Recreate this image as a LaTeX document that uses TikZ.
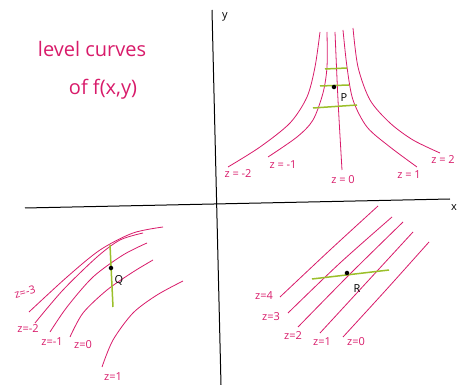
\documentclass[tikz,border=0pt]{standalone}
\usepackage{fontspec}
\setmainfont{Open Sans}
\usetikzlibrary{positioning}

\definecolor{curvepink}{HTML}{D81B6A}
\definecolor{tangentgreen}{HTML}{9BBF2A}

\begin{document}
\begin{tikzpicture}[x=1pt,y=-1pt,
  every node/.style={font=\fontsize{11}{12}\selectfont},
  axis/.style={line width=1pt,black},
  level/.style={curvepink,line width=.8pt},
  lvllabel/.style={text=curvepink,inner sep=1pt},
  cross/.style={tangentgreen,line width=1.5pt},
  pt/.style={circle,fill=black,inner sep=1.6pt}]
  \useasboundingbox (0,0) rectangle (459,385);

  % axes
  \coordinate (ytop) at (212,10);
  \coordinate (ybot) at (221,385);
  \coordinate (xleft) at (25,208);
  \coordinate (xright) at (450,199);
  \draw[axis] (ytop) -- (ybot);
  \draw[axis] (xleft) -- (xright);
  \node (ylab) at (225,17) {y};
  \node (xlab) at (454,208) {x};

  % title
  \node[text=curvepink,font=\fontsize{20}{22}\selectfont] (title1) at (92,49) {level curves};
  \node[text=curvepink,font=\fontsize{20}{22}\selectfont] (title2) at (103,89) {of f(x,y)};

  % first quadrant
  \draw[level] plot[smooth] coordinates {(320,32) (315,67) (307,97) (290,123) (260,147) (228,167)};
  \draw[level] plot[smooth] coordinates {(327,32) (327,67) (323,93) (313,120) (297,137) (268,157)};
  \draw[level] plot[smooth] coordinates {(335,32) (338,100) (342,170)};
  \draw[level] plot[smooth] coordinates {(343,30) (347,67) (353,100) (367,127) (390,147) (417,167)};
  \draw[level] plot[smooth] coordinates {(353,28) (358,67) (370,100) (390,123) (413,140) (440,153)};
  \draw[cross] (325,69) -- (347,68);
  \draw[cross] (320,86) -- (349,85);
  \draw[cross] (313,108) -- (357,105);
  \node[pt] (P) at (334,87) {};
  \node (Plab) at (344,98) {P};
  \node[lvllabel] (a1) at (238,174) {z = -2};
  \node[lvllabel] (a2) at (283,165) {z = -1};
  \node[lvllabel] (a3) at (343,180) {z = 0};
  \node[lvllabel] (a4) at (409,175) {z = 1};
  \node[lvllabel] (a5) at (443,160) {z = 2};

  % third quadrant
  \draw[level] plot[smooth] coordinates {(29,312) (67,277) (100,250) (133,233) (163,227)};
  \draw[level] plot[smooth] coordinates {(35,323) (63,290) (97,257) (120,240) (143,233)};
  \draw[level] plot[smooth] coordinates {(50,332) (67,307) (93,277) (123,255) (147,243)};
  \draw[level] plot[smooth] coordinates {(70,337) (83,313) (107,290) (133,272) (153,260)};
  \draw[level] plot[smooth] coordinates {(102,367) (113,340) (133,313) (157,295) (183,281)};
  \draw[cross] (110,245) -- (113,307);
  \node[pt] (Q) at (111,268) {};
  \node (Qlab) at (119,280) {Q};
  \node[lvllabel,rotate=15] (b1) at (25,292) {z=-3};
  \node[lvllabel] (b2) at (28,329) {z=-2};
  \node[lvllabel] (b3) at (52,342) {z=-1};
  \node[lvllabel] (b4) at (83,345) {z=0};
  \node[lvllabel] (b5) at (113,377) {z=1};

  % fourth quadrant
  \draw[level] plot[smooth] coordinates {(280,297) (330,250) (378,206)};
  \draw[level] plot[smooth] coordinates {(288,313) (340,263) (392,217)};
  \draw[level] plot[smooth] coordinates {(298,327) (350,274) (403,222)};
  \draw[level] plot[smooth] coordinates {(320,333) (367,282) (413,232)};
  \draw[level] plot[smooth] coordinates {(343,337) (386,290) (429,242)};
  \draw[cross] (312,279) -- (389,270);
  \node[pt] (R) at (347,273) {};
  \node (Rlab) at (357,289) {R};
  \node[lvllabel] (c1) at (264,296) {z=4};
  \node[lvllabel] (c2) at (271,317) {z=3};
  \node[lvllabel] (c3) at (293,336) {z=2};
  \node[lvllabel] (c4) at (322,342) {z=1};
  \node[lvllabel] (c5) at (356,342) {z=0};
\end{tikzpicture}
\end{document}
